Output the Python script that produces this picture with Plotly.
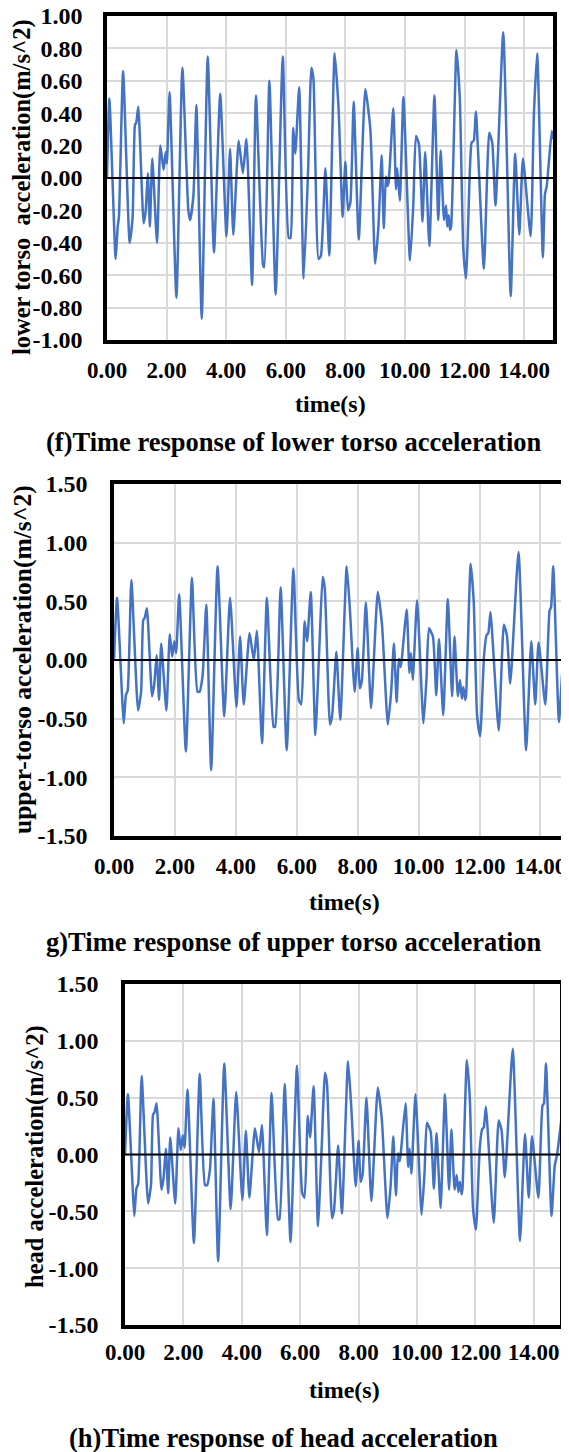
import plotly.graph_objects as go

# ---------------- data ----------------
time_lower = [0.00, 0.08, 0.29, 0.36, 0.40, 0.54, 0.76, 0.86, 0.94, 0.98,
              1.05, 1.23, 1.30, 1.37, 1.44, 1.52, 1.68, 1.79, 1.90, 1.97,
              2.01, 2.10, 2.33, 2.53, 2.73, 2.79, 2.90, 3.00, 3.18, 3.38,
              3.59, 3.80, 4.01, 4.13, 4.24, 4.42, 4.56, 4.68, 4.87, 5.00,
              5.24, 5.28, 5.45, 5.66, 5.90, 6.10, 6.16, 6.25, 6.32, 6.45,
              6.60, 6.75, 6.86, 6.93, 7.10, 7.18, 7.33, 7.46, 7.64, 7.77,
              7.91, 8.00, 8.09, 8.17, 8.28, 8.45, 8.67, 8.84, 9.00, 9.11,
              9.22, 9.29, 9.36, 9.41, 9.45, 9.61, 9.70, 9.74, 9.83, 9.95,
              10.17, 10.28, 10.37, 10.47, 10.59, 10.68, 10.82, 10.99, 11.12, 11.20,
              11.31, 11.38, 11.42, 11.47, 11.51, 11.55, 11.73, 11.84, 11.96, 12.05,
              12.18, 12.24, 12.31, 12.38, 12.65, 12.83, 12.93, 13.04, 13.30, 13.55,
              13.70, 13.84, 13.96, 14.22, 14.33, 14.44, 14.63, 14.70, 14.76, 14.93,
              14.98]
acc_lower = [0.00, 0.49, -0.50, -0.30, -0.24, 0.66, -0.40, -0.24, 0.33, 0.34,
             0.44, -0.28, -0.20, 0.03, -0.30, 0.12, -0.40, 0.20, 0.05, 0.16,
             0.09, 0.53, -0.74, 0.68, -0.20, -0.26, -0.11, 0.45, -0.87, 0.75,
             -0.46, 0.52, -0.36, 0.18, -0.35, 0.23, 0.03, 0.24, -0.66, 0.51,
             -0.54, -0.55, 0.60, -0.72, 0.75, -0.37, -0.37, 0.31, 0.15, 0.56,
             -0.62, 0.05, 0.68, 0.61, -0.50, -0.48, 0.06, -0.48, 0.77, 0.44,
             -0.24, 0.10, -0.20, -0.15, 0.47, -0.38, 0.55, 0.30, -0.53, -0.30,
             0.14, -0.31, 0.01, -0.05, -0.03, 0.43, -0.07, 0.06, -0.14, 0.50,
             -0.51, -0.17, 0.26, 0.21, -0.27, 0.16, -0.42, 0.51, -0.26, 0.17,
             -0.26, -0.17, -0.30, -0.23, -0.32, -0.30, 0.79, 0.50, -0.44, -0.62,
             0.05, 0.22, 0.23, 0.41, -0.56, 0.28, 0.22, -0.17, 0.90, -0.73,
             0.15, -0.35, 0.12, -0.36, 0.40, 0.77, -0.49, -0.10, -0.05, 0.29,
             0.24]

time_upper = [0.00, 0.10, 0.32, 0.39, 0.45, 0.57, 0.79, 0.89, 0.96, 1.01,
              1.08, 1.25, 1.32, 1.40, 1.48, 1.55, 1.72, 1.83, 1.91, 1.98,
              2.04, 2.14, 2.36, 2.56, 2.74, 2.81, 2.91, 3.03, 3.19, 3.40,
              3.62, 3.81, 4.02, 4.14, 4.26, 4.45, 4.59, 4.69, 4.86, 5.02,
              5.24, 5.29, 5.47, 5.67, 5.89, 6.07, 6.15, 6.26, 6.34, 6.46,
              6.61, 6.74, 6.85, 6.92, 7.09, 7.16, 7.30, 7.43, 7.64, 7.75,
              7.90, 8.00, 8.07, 8.14, 8.27, 8.44, 8.66, 8.80, 8.99, 9.10,
              9.19, 9.28, 9.35, 9.41, 9.45, 9.61, 9.70, 9.75, 9.81, 9.95,
              10.16, 10.26, 10.34, 10.47, 10.58, 10.67, 10.81, 10.96, 11.10, 11.18,
              11.29, 11.36, 11.42, 11.47, 11.53, 11.56, 11.71, 11.81, 11.92, 12.02,
              12.15, 12.23, 12.29, 12.36, 12.63, 12.80, 12.90, 13.01, 13.28, 13.53,
              13.70, 13.83, 13.94, 14.16, 14.30, 14.35, 14.42, 14.61, 14.72, 14.80,
              14.95]
acc_upper = [0.00, 0.53, -0.54, -0.30, -0.26, 0.68, -0.43, -0.27, 0.34, 0.36,
             0.44, -0.31, -0.21, 0.04, -0.34, 0.14, -0.43, 0.22, 0.03, 0.16,
             0.06, 0.56, -0.78, 0.70, -0.27, -0.27, -0.13, 0.47, -0.94, 0.80,
             -0.48, 0.53, -0.40, 0.20, -0.38, 0.23, 0.00, 0.25, -0.71, 0.53,
             -0.57, -0.57, 0.62, -0.77, 0.78, -0.34, -0.38, 0.33, 0.16, 0.58,
             -0.64, 0.09, 0.71, 0.61, -0.55, -0.48, 0.07, -0.51, 0.80, 0.41,
             -0.27, 0.10, -0.24, -0.17, 0.49, -0.41, 0.58, 0.30, -0.55, -0.27,
             0.14, -0.36, 0.01, -0.06, 0.01, 0.43, -0.11, 0.06, -0.17, 0.51,
             -0.54, -0.16, 0.27, 0.20, -0.30, 0.18, -0.47, 0.52, -0.31, 0.20,
             -0.31, -0.17, -0.33, -0.23, -0.34, -0.30, 0.82, 0.50, -0.47, -0.65,
             0.04, 0.21, 0.23, 0.41, -0.60, 0.30, 0.21, -0.20, 0.92, -0.77,
             0.16, -0.38, 0.15, -0.38, 0.42, 0.45, 0.80, -0.53, -0.10, 0.00,
             0.30]

time_head = list(time_upper)
acc_head = [0.00, 0.53, -0.54, -0.30, -0.26, 0.69, -0.43, -0.27, 0.35, 0.37,
            0.45, -0.31, -0.21, 0.05, -0.34, 0.15, -0.43, 0.23, 0.04, 0.17,
            0.06, 0.57, -0.78, 0.71, -0.27, -0.27, -0.13, 0.49, -0.94, 0.80,
            -0.48, 0.55, -0.40, 0.21, -0.38, 0.23, 0.02, 0.26, -0.71, 0.54,
            -0.57, -0.57, 0.62, -0.77, 0.78, -0.34, -0.38, 0.34, 0.15, 0.60,
            -0.63, 0.08, 0.72, 0.62, -0.56, -0.49, 0.08, -0.52, 0.82, 0.42,
            -0.28, 0.12, -0.24, -0.17, 0.50, -0.41, 0.59, 0.30, -0.56, -0.27,
            0.16, -0.36, 0.01, -0.06, 0.02, 0.45, -0.11, 0.05, -0.17, 0.53,
            -0.53, -0.16, 0.28, 0.20, -0.30, 0.19, -0.47, 0.53, -0.31, 0.22,
            -0.31, -0.18, -0.33, -0.24, -0.35, -0.30, 0.83, 0.50, -0.47, -0.66,
            0.05, 0.22, 0.24, 0.42, -0.60, 0.30, 0.21, -0.20, 0.93, -0.76,
            0.18, -0.38, 0.16, -0.38, 0.43, 0.45, 0.80, -0.54, -0.10, 0.00,
            0.32]

x_tick_vals = [0, 2, 4, 6, 8, 10, 12, 14]
x_tick_text = ["0.00", "2.00", "4.00", "6.00", "8.00", "10.00", "12.00", "14.00"]
y1_tick_vals = [-1.0, -0.8, -0.6, -0.4, -0.2, 0.0, 0.2, 0.4, 0.6, 0.8, 1.0]
y1_tick_text = ["-1.00", "-0.80", "-0.60", "-0.40", "-0.20", "0.00",
                "0.20", "0.40", "0.60", "0.80", "1.00"]
y2_tick_vals = [-1.5, -1.0, -0.5, 0.0, 0.5, 1.0, 1.5]
y2_tick_text = ["-1.50", "-1.00", "-0.50", "0.00", "0.50", "1.00", "1.50"]

y_titles = ["lower torso\u00a0 acceleration(m/s^2)",
            "upper-torso acceleration(m/s^2)",
            "head acceleration(m/s^2)"]
x_title = "time(s)"
captions = ["(f)Time response of lower torso acceleration",
            "g)Time response of upper torso acceleration",
            "(h)Time response of head acceleration"]

# ---------------- layout / styling ----------------
OFF = 8                      # page body margin of the viewer
W, H = 569 - OFF, 1452 - OFF
SERIF = "Liberation Serif"
BLUE = "#4472C4"
GRID = "#d9d9d9"


def px_x(p):
    return (p - OFF) / W


def px_y(p):
    return 1 - (p - OFF) / H


panels = [
    dict(t=time_lower, v=acc_lower, xd=(107, 553), yd=(16, 340), yr=[-1, 1],
         yt=(y1_tick_vals, y1_tick_text), xr=[0, 14.97], ytl=16, xtl=7,
         ytx=22, yty=187, ytfs=24.5, xtt=(330, 404), cap=(294, 442)),
    dict(t=time_upper, v=acc_upper, xd=(114, 566), yd=(484, 836), yr=[-1.5, 1.5],
         yt=(y2_tick_vals, y2_tick_text), xr=[0, 14.84], ytl=18, xtl=7,
         ytx=22, yty=660, ytfs=25.5, xtt=(344, 902), cap=(294, 942)),
    dict(t=time_head, v=acc_head, xd=(125, 560), yd=(984, 1325), yr=[-1.5, 1.5],
         yt=(y2_tick_vals, y2_tick_text), xr=[0, 14.9], ytl=18, xtl=4,
         ytx=35, yty=1157, ytfs=24.5, xtt=(344, 1390), cap=(283, 1438)),
]

fig = go.Figure()
annotations = []
shapes = []
layout_axes = {}

for i, p in enumerate(panels):
    n = i + 1
    xa = "x" if n == 1 else f"x{n}"
    ya = "y" if n == 1 else f"y{n}"
    xkey = "xaxis" if n == 1 else f"xaxis{n}"
    ykey = "yaxis" if n == 1 else f"yaxis{n}"

    fig.add_trace(go.Scatter(
        x=p["t"], y=p["v"], mode="lines", xaxis=xa, yaxis=ya,
        line=dict(color=BLUE, width=2.5, shape="spline", smoothing=0.5),
        showlegend=False, hoverinfo="skip"))

    layout_axes[xkey] = dict(
        domain=[px_x(p["xd"][0]), px_x(p["xd"][1])],
        anchor=ya, range=p["xr"], automargin=False,
        tickvals=x_tick_vals, ticktext=x_tick_text, tickangle=0,
        ticklabeloverflow="allow",
        showgrid=True, gridcolor=GRID, gridwidth=2,
        zeroline=False,
        showline=True, linecolor="black", linewidth=3.5, mirror=True,
        ticks="outside", ticklen=p["xtl"], tickcolor="rgba(0,0,0,0)",
        tickfont=dict(family=SERIF, size=23, color="black", weight="bold"),
    )
    layout_axes[ykey] = dict(
        domain=[px_y(p["yd"][1]), px_y(p["yd"][0])],
        anchor=xa, range=p["yr"], automargin=False,
        tickvals=p["yt"][0], ticktext=p["yt"][1],
        ticklabeloverflow="allow",
        showgrid=True, gridcolor=GRID, gridwidth=2,
        zeroline=False,
        showline=True, linecolor="black", linewidth=3.5, mirror=True,
        ticks="outside", ticklen=p["ytl"], tickcolor="rgba(0,0,0,0)",
        tickfont=dict(family=SERIF, size=24, color="black", weight="bold"),
    )

    # black horizontal axis line at zero, drawn above the series
    shapes.append(dict(type="line", xref=f"{xa} domain", yref=ya,
                       x0=0, x1=1, y0=0, y1=0, layer="above",
                       line=dict(color="black", width=2.2)))

    annotations.append(dict(
        text=y_titles[i], xref="paper", yref="paper",
        x=px_x(p["ytx"]), y=px_y(p["yty"]),
        xanchor="center", yanchor="middle", textangle=-90, showarrow=False,
        font=dict(family=SERIF, size=p["ytfs"], color="black", weight="bold")))
    annotations.append(dict(
        text=x_title, xref="paper", yref="paper",
        x=px_x(p["xtt"][0]), y=px_y(p["xtt"][1]),
        xanchor="center", yanchor="middle", showarrow=False,
        font=dict(family=SERIF, size=24, color="black", weight="bold")))
    annotations.append(dict(
        text=captions[i], xref="paper", yref="paper",
        x=px_x(p["cap"][0]), y=px_y(p["cap"][1]),
        xanchor="center", yanchor="middle", showarrow=False,
        font=dict(family=SERIF, size=26.5, color="black", weight="bold")))

fig.update_layout(
    template="none",
    width=W, height=H,
    margin=dict(l=0, r=0, t=0, b=0, pad=0, autoexpand=False),
    paper_bgcolor="white", plot_bgcolor="white",
    annotations=annotations, shapes=shapes,
    **layout_axes,
)

fig.write_html("out.html")
